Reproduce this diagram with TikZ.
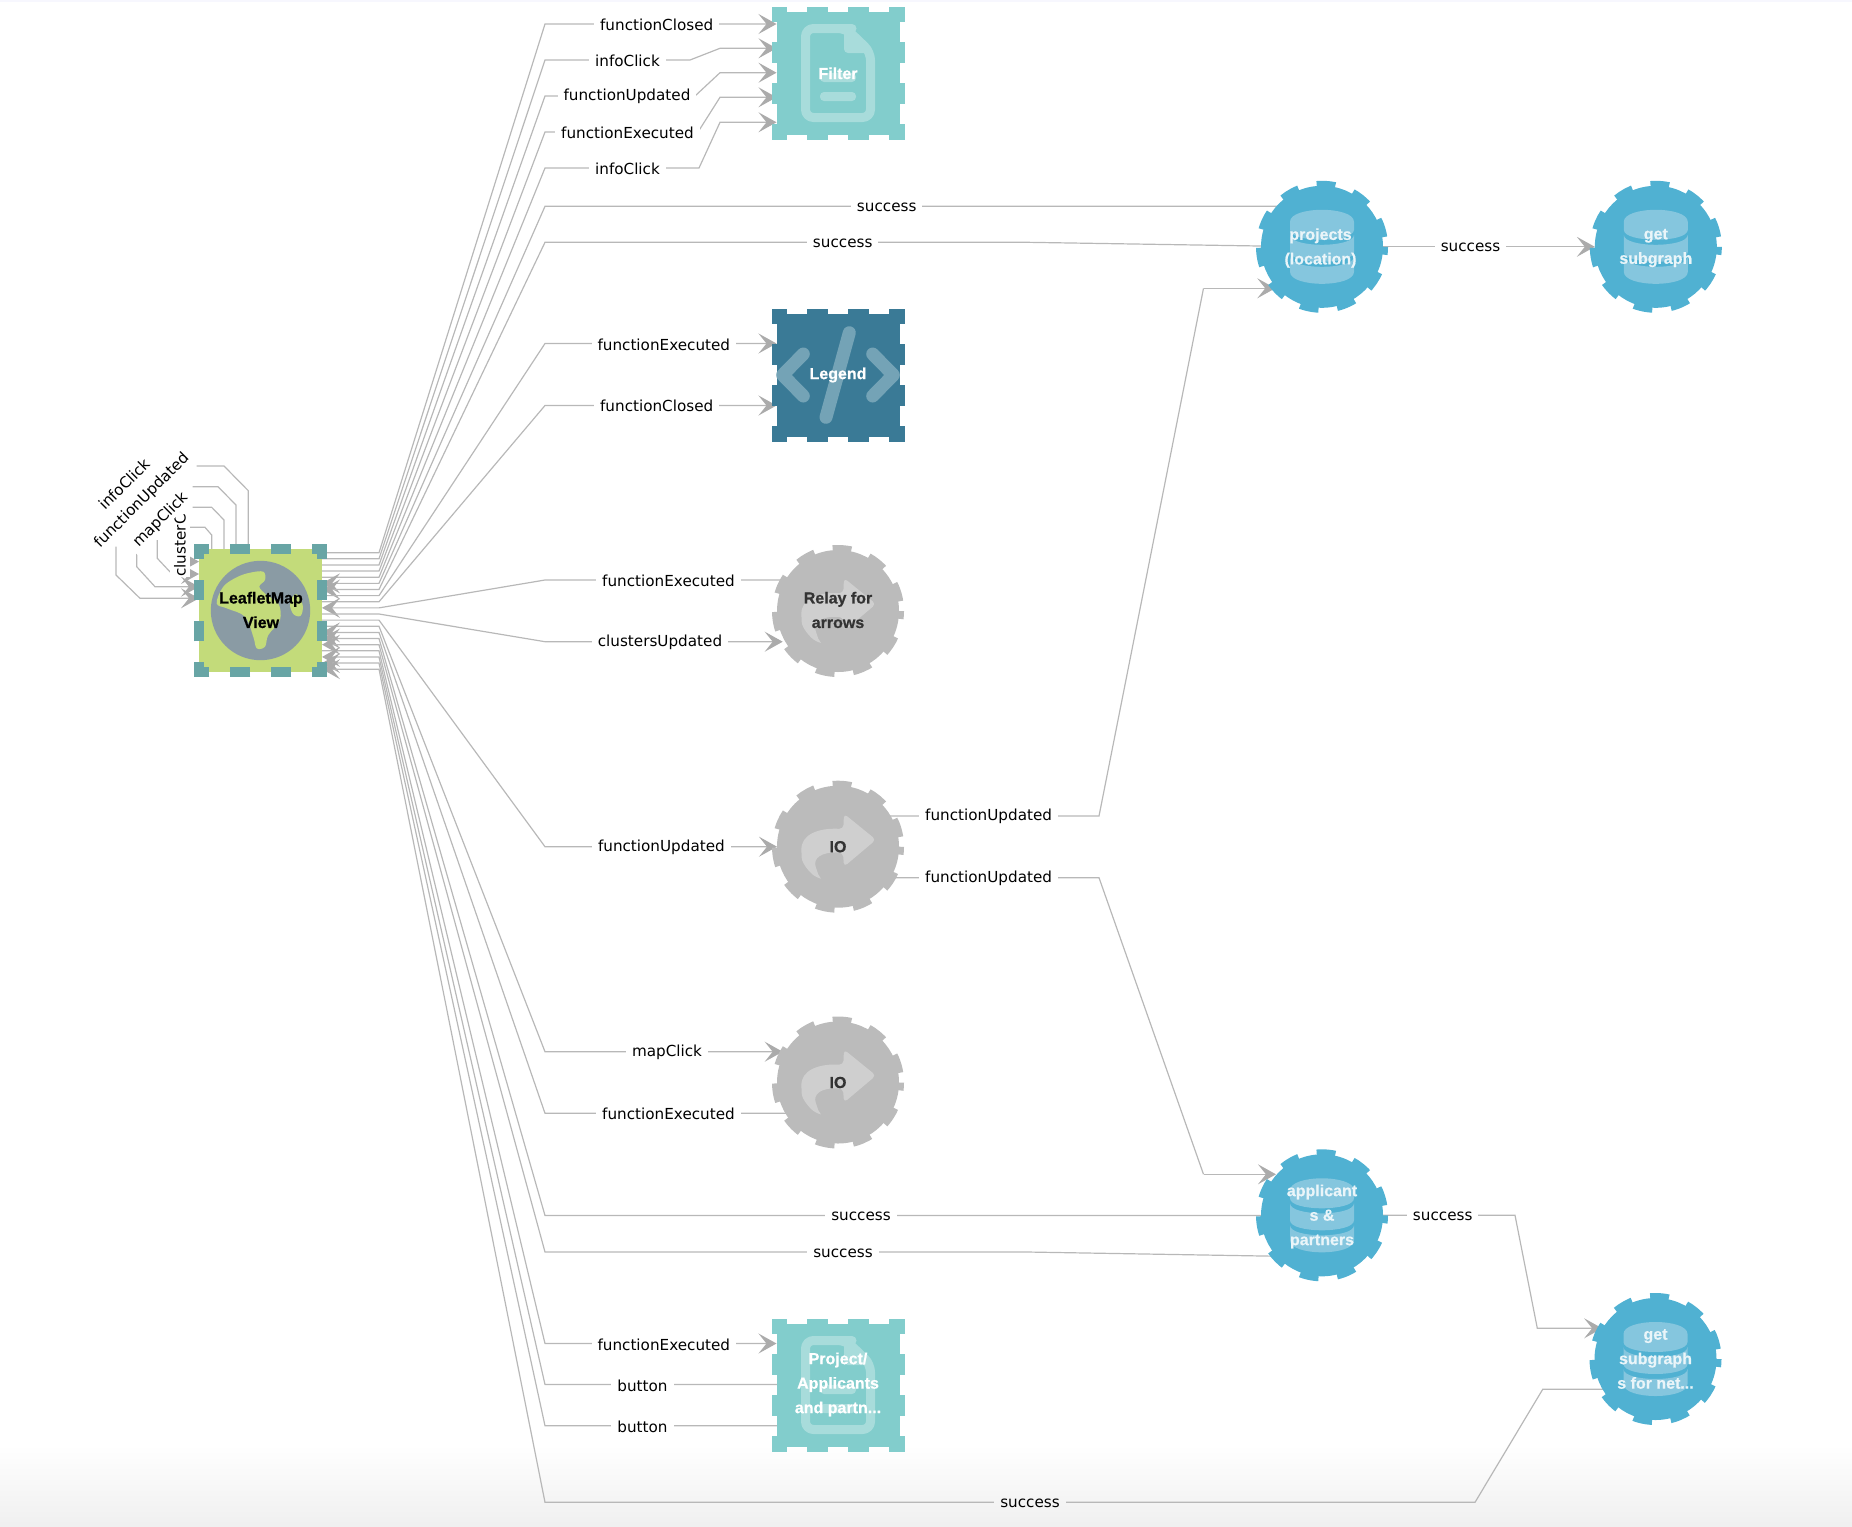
\documentclass[tikz,border=0pt]{standalone}
\usepackage{fontspec}
\setmainfont{DejaVu Sans}
\newfontfamily\nodefont{Liberation Sans Bold}[FakeBold=0.6]
\usetikzlibrary{arrows.meta,calc}
\definecolor{teal1}{HTML}{82CDCC}
\definecolor{teal1i}{HTML}{A8DCDB}
\definecolor{deep}{HTML}{3A7A96}
\definecolor{deepi}{HTML}{74A3B6}
\definecolor{sky}{HTML}{50B1D2}
\definecolor{skyi}{HTML}{85C6DE}
\definecolor{grayn}{HTML}{BBBBBB}
\definecolor{grayi}{HTML}{CFCFCF}
\definecolor{lime}{HTML}{C3DB7A}
\definecolor{stk}{HTML}{68A5A5}
\definecolor{globe}{HTML}{8A9BA4}
\definecolor{edgec}{HTML}{B8B8B8}
\definecolor{tipc}{HTML}{ABABAB}
\definecolor{skytext}{HTML}{EAF5F9}
\pgfdeclarelayer{edges}
\pgfsetlayers{edges,main}
\tikzset{
  sqbox/.style={rectangle,minimum size=61.5pt,inner sep=0pt,outer sep=0pt},
  sqdash/.style={line width=5pt,dash pattern=on 10.25pt off 10.25pt,dash phase=15.375pt},
  gearbase/.style={circle,minimum size=61pt,inner sep=0pt,outer sep=0pt},
  geardash/.style={line width=5pt,dash pattern=on 9.15pt off 9.15pt,dash phase=5.3pt},
  conn/.style={draw=edgec,line width=0.6pt},
  arr/.style={conn,arrows={-Stealth[length=9pt,width=10pt,inset=4pt,color=tipc]}},
  rarr/.style={conn,arrows={Stealth[length=9pt,width=10pt,inset=4pt,color=tipc]-}},
  lblbase/.style={font=\fontsize{7.6}{9}\selectfont,inner xsep=3pt,inner ysep=1.5pt,text=black},
  lbl/.style={lblbase,fill=white,yshift=-0.35pt},
  nlbl/.style={font=\nodefont\fontsize{8}{12.25}\selectfont,align=center,inner sep=0pt},
}
\newcommand\sqnode[5]{%
  \node[sqbox,fill=#4] (#1) at (#2,#3) {};
  \draw[sqdash,draw=#5] (#1.north) -- (#1.north east) -- (#1.south east) -- (#1.south west) -- (#1.north west) -- cycle;}
\newcommand\gearnode[4]{%
  \node[gearbase,fill=#4] (#1) at (#2,#3) {};
  \draw[geardash,draw=#4] (#1.east) arc[start angle=0,delta angle=-360,radius=30.5pt];}
\newcommand\docicon[3]{%
  \begin{scope}[shift={(#1,#2)}]
    \draw[draw=#3,line width=4.5pt,rounded corners=4pt,line join=round]
      (6,-44.5) -- (-32.5,-44.5) -- (-32.5,44.5) -- (32.5,44.5) -- (32.5,-21) -- (8,-44.5) -- cycle;
    \fill[#3,rounded corners=2pt] (6,-49) -- (37,-20) -- (6,-20) -- cycle;
    \fill[#3,rounded corners=2pt] (-18,0) rectangle (18,9);
    \fill[#3,rounded corners=2pt] (-18,19) rectangle (18,28);
  \end{scope}}
\newcommand\dbicon[2]{%
  \begin{scope}[shift={(#1,#2)}]
    \fill[skyi] (-32,-25) .. controls (-32,-41) and (32,-41) .. (32,-25) -- (32,-17) .. controls (32,-3.7) and (-32,-3.7) .. (-32,-17) -- cycle;
    \fill[skyi] (-32,-12) .. controls (-32,1.3) and (32,1.3) .. (32,-12) -- (32,5) .. controls (32,18.3) and (-32,18.3) .. (-32,5) -- cycle;
    \fill[skyi] (-32,10) .. controls (-32,23.3) and (32,23.3) .. (32,10) -- (32,25) .. controls (32,41) and (-32,41) .. (-32,25) -- cycle;
  \end{scope}}
\newcommand\relayicon[2]{%
  \begin{scope}[shift={(#1,#2)}]
    \fill[grayi,rounded corners=2pt] (38,-7) -- (6,-33) -- (5.3,-17.7) .. controls (-20,-19) and (-37,-12) .. (-36.5,7) .. controls (-36,17) and (-28,26) .. (-21,31) .. controls (-17,32) and (-20,27) .. (-21,24) .. controls (-25,12) and (-18,5) .. (5,6) -- (6,20) -- cycle;
  \end{scope}}
\begin{document}
\begin{tikzpicture}[x=0.5pt,y=-0.5pt]
\useasboundingbox (0,0) rectangle (1852,1526);
% ---------- nodes
\sqnode{leaf}{260.5}{610.5}{lime}{stk}
\fill[globe] (leaf.center) circle (24.85pt);
\fill[lime] plot[smooth cycle,tension=.6] coordinates {(223.3,586.7) (236.7,577.3) (250,572.7) (263.3,571.7) (265,580) (259.3,586.7) (266.7,595) (278.3,603.3) (280,620) (268.3,635) (265,646.7) (256.7,648.3) (253.3,636.7) (245,616.7) (226.7,608.3) (216.7,603.3)};
\fill[lime] plot[smooth cycle,tension=.6] coordinates {(290,603.3) (296,594) (302.7,605) (300.7,615.7) (293.3,614)};
\node[nlbl,text=black] (leafT) at (261,610) {LeafletMap\\View};

\sqnode{filter}{838}{73}{teal1}{teal1}
\docicon{838}{73}{teal1i}
\node[nlbl,text=white] (filterT) at (838,73.3) {Filter};

\sqnode{legend}{838}{375}{deep}{deep}
\draw[deepi,line width=6.5pt,line cap=round,line join=round] (803.3,354) -- (782.7,375) -- (803.3,396);
\draw[deepi,line width=6.5pt,line cap=round,line join=round] (872.7,354) -- (893.3,375) -- (872.7,396);
\draw[deepi,line width=6.5pt,line cap=round] (849.3,332.7) -- (826,417.3);
\node[nlbl,text=white] (legendT) at (838,375) {Legend};

\sqnode{project}{838}{1385}{teal1}{teal1}
\docicon{838}{1385}{teal1i}
\node[nlbl,text=white] (projectT) at (838,1384.5) {Project/\\Applicants\\and partn...};

\gearnode{relay}{838}{611}{grayn}
\relayicon{838}{611}
\node[nlbl,text=black!80] (relayT) at (838,610) {Relay for\\arrows};

\gearnode{io}{838}{846.7}{grayn}
\relayicon{838}{846.7}
\node[nlbl,text=black!80] (ioT) at (838,846.7) {IO};

\gearnode{iob}{838}{1082.5}{grayn}
\relayicon{838}{1082.5}
\node[nlbl,text=black!80] (iobT) at (838,1082.5) {IO};

\gearnode{proj}{1322}{246.8}{sky}
\dbicon{1322}{246.8}
\node[nlbl,text=skytext] (projT) at (1320.5,248) {projects\\(location)};

\gearnode{subA}{1655.8}{246.8}{sky}
\dbicon{1655.8}{246.8}
\node[nlbl,text=skytext] (subAT) at (1655.8,248) {get\\subgraph};

\gearnode{app}{1322}{1215.3}{sky}
\dbicon{1322}{1215.3}
\node[nlbl,text=skytext] (appT) at (1322,1216.5) {applicant\\s \&\\partners};

\gearnode{subB}{1655.5}{1359}{sky}
\dbicon{1655.5}{1359}
\node[nlbl,text=skytext] (subBT) at (1655.5,1359) {get\\subgraph\\s for net...};

% ---------- ports on the LeafletMap node
\foreach \k in {0,...,19}{
  \pgfmathsetmacro\yy{552.7+6.13*\k}
  \coordinate (p\k) at (leaf.east |- 0,\yy);
  \coordinate (e\k) at (379,\yy);
}

% ---------- labels
\node[lbl] (l0) at (656.7,24) {functionClosed};
\node[lbl] (l1) at (627.5,60) {infoClick};
\node[lbl] (l2) at (627,96) {functionUpdated};
\node[lbl] (l3) at (627.5,132) {functionExecuted};
\node[lbl] (l4) at (627.5,168) {infoClick};
\node[lbl] (l5) at (886.7,206.5) {success};
\node[lbl] (l6) at (842.7,242.5) {success};
\node[lbl] (l7) at (663.8,344) {functionExecuted};
\node[lbl] (l8) at (656.7,405.5) {functionClosed};
\node[lbl] (l9) at (668.5,580) {functionExecuted};
\node[lbl] (l10) at (660,642) {clustersUpdated};
\node[lbl] (l11) at (661.4,847) {functionUpdated};
\node[lbl] (l12) at (667,1052) {mapClick};
\node[lbl] (l13) at (668.5,1113.5) {functionExecuted};
\node[lbl] (l14) at (861,1215.8) {success};
\node[lbl] (l15) at (843,1252.3) {success};
\node[lbl] (l16) at (663.8,1344) {functionExecuted};
\node[lbl] (l17) at (642.5,1384.8) {button};
\node[lbl] (l18) at (642.5,1426) {button};
\node[lbl] (l19) at (988.6,816) {functionUpdated};
\node[lbl] (l20) at (988.6,878) {functionUpdated};
\node[lbl] (l21) at (1470.5,247) {success};
\node[lbl] (l22) at (1442.7,1215.8) {success};
\node[lblbase,fill=white,rotate=90,anchor=west,inner xsep=0pt,inner ysep=2pt] (l26) at (180,577) {clusterC};
\node[lblbase,fill=white,rotate=45,inner ysep=0.5pt] (l25) at (160.7,520) {mapClick};
\node[lblbase,rotate=45] (l24) at (142,500.7) {functionUpdated};
\node[lblbase,rotate=45] (l23) at (124,484) {infoClick};
\node[lblbase,yshift=-0.35pt] (sBot) at (1030,1502.5) {success};

% ---------- connectors
\begin{pgfonlayer}{edges}
\shade[top color=white,bottom color=black!6] (0,1445) rectangle (1852,1526);
\fill[black!12!blue!3!white] (0,0) rectangle (1852,1.5);
\draw[arr] (p0) -- (e0) -- (545,24) -- (filter.west |- 0,24);
\draw[arr] (p1) -- (e1) -- (545,60) -- (690,60) -- (720,48.3) -- (filter.west |- 0,48.3);
\draw[arr] (p2) -- (e2) -- (545,96) -- (695,96) -- (720,72.7) -- (filter.west |- 0,72.7);
\draw[arr] (p3) -- (e3) -- (545,132) -- (698,132) -- (720,97.3) -- (filter.west |- 0,97.3);
\draw[arr] (p4) -- (e4) -- (545,168) -- (699,168) -- (720,122.3) -- (filter.west |- 0,122.3);
\draw[rarr] (p5) -- (e5) -- (545,206.3) -- (proj.center |- 0,206.3);
\draw[rarr] (p6) -- (e6) -- (545,242.3) -- (1027,242.3) -- (proj.center |- 0,247);
\draw[arr] (p7) -- (e7) -- (545,343.5) -- (legend.west |- 0,343.5);
\draw[arr] (p8) -- (e8) -- (545,405.5) -- (legend.west |- 0,405.5);
\draw[rarr] (p9) -- (e9) -- (545,580) -- (relay.center |- 0,580);
\draw[arr] (p10) -- (e10) -- (545,641.7) -- (relay.205 |- 0,641.7);
\draw[arr] (p11) -- (e11) -- (545,846.7) -- (io.west |- 0,846.7);
\draw[arr] (p12) -- (e12) -- (545,1051.7) -- (iob.155 |- 0,1051.7);
\draw[rarr] (p13) -- (e13) -- (545,1113.3) -- (iob.center |- 0,1113.3);
\draw[rarr] (p14) -- (e14) -- (545,1215.5) -- (app.center |- 0,1215.5);
\draw[rarr] (p15) -- (e15) -- (545,1252) -- (1027,1252) -- (app.center |- 0,1257);
\draw[arr] (p16) -- (e16) -- (545,1343.5) -- (project.west |- 0,1343.5);
\draw[rarr] (p17) -- (e17) -- (545,1384.5) -- (project.center |- 0,1384.5);
\draw[rarr] (p18) -- (e18) -- (545,1425.7) -- (project.center |- 0,1425.7);
\draw[arr] (proj.center) -- (subA.west);
\draw[conn] (io.center |- 0,816) -- (1099,816) -- (1203.5,288.3);
\draw[arr] (1203.5,288.3) -- (proj.220 |- 0,288.3);
\draw[conn] (io.center |- 0,877.7) -- (1099,877.7) -- (1203.5,1174.3);
\draw[arr] (1203.5,1174.3) -- (app.139 |- 0,1174.3);
\draw[arr] (app.center) -- (1515,1215.3) -- (1537.3,1328.3) -- (subB.151 |- 0,1328.3);
% self loops, interrupted where their rotated labels stand
\coordinate (ltA) at (leaf.west |- 0,598.3);
\coordinate (ltB) at (leaf.west |- 0,586.7);
\coordinate (ltC) at (leaf.west |- 0,574);
\coordinate (ltD) at (leaf.west |- 0,561.6);
\draw[conn] (248.3,549) -- (248.3,490.7) -- (224,466) -- (196.7,466);
\draw[arr] (116,546.7) -- (116,575) -- (140,598.3) -- (ltA);
\draw[conn] (236,549) -- (236,505) -- (218,486.7) -- (192.7,486.7);
\draw[arr] (136.7,553.3) -- (136.7,566.7) -- (155,586.7) -- (ltB);
\draw[conn] (224,549) -- (224,520) -- (211.7,507.3) -- (192.7,507.3);
\draw[arr] (157.3,540) -- (157.3,558.3) -- (172,574) -- (ltC);
\draw[arr] (211.7,549) -- (211.7,535) -- (205,527.3) -- (180,527.3) -- (180,561.6) -- (ltD);
% bottom edge, split by its label, which has no background
\draw[rarr] (p19) -- (e19) -- (545,1502.3) -- (sBot.west |- 0,1502.3);
\draw[conn] (sBot.east |- 0,1502.3) -- (1475,1502.3) -- (1542.7,1389.3) -- (subB.center |- 0,1389.3);
\end{pgfonlayer}
\end{tikzpicture}
\end{document}
